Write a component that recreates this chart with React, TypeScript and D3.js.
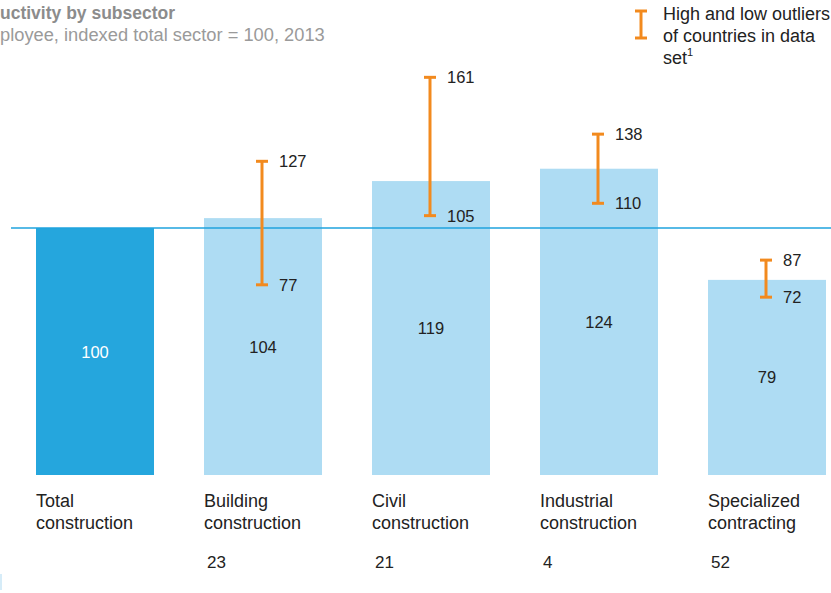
import React, { useEffect, useRef } from 'react';
import * as d3 from 'd3';

const categories = ['Total construction', 'Building construction', 'Civil construction', 'Industrial construction', 'Specialized contracting'];
const labelLines = [['Total', 'construction'], ['Building', 'construction'], ['Civil', 'construction'], ['Industrial', 'construction'], ['Specialized', 'contracting']];
const values = [100, 104, 119, 124, 79];
const highOutliers = [null, 127, 161, 138, 87];
const lowOutliers = [null, 77, 105, 110, 72];
const shares = ['', '23', '21', '4', '52'];

const W = 831;
const H = 593;
const FONT = 'Liberation Sans, Arial, sans-serif';
const ORANGE = '#F28A1E';

export default function App() {
  const ref = useRef<SVGSVGElement>(null);

  useEffect(() => {
    if (!ref.current) return;
    const svg = d3.select(ref.current);
    svg.selectAll('*').remove();

    const x = d3.scaleBand<string>().domain(categories).range([36, 826]).paddingInner(0.2976).paddingOuter(0);
    const y = d3.scaleLinear().domain([0, 100]).range([475, 228]);

    // title
    svg.append('text').attr('x', 0).attr('y', 19).attr('font-family', FONT).attr('font-size', 17.5)
      .attr('font-weight', 'bold').attr('fill', '#8c8c8c').text('uctivity by subsector');
    svg.append('text').attr('x', 0).attr('y', 41).attr('font-family', FONT).attr('font-size', 18.3)
      .attr('fill', '#9a9a9a').text('ployee, indexed total sector = 100, 2013');

    // legend
    const lg = svg.append('g');
    lg.append('line').attr('x1', 641).attr('x2', 641).attr('y1', 11).attr('y2', 38).attr('stroke', ORANGE).attr('stroke-width', 3);
    lg.append('line').attr('x1', 635).attr('x2', 647).attr('y1', 11).attr('y2', 11).attr('stroke', ORANGE).attr('stroke-width', 3);
    lg.append('line').attr('x1', 635).attr('x2', 647).attr('y1', 38).attr('y2', 38).attr('stroke', ORANGE).attr('stroke-width', 3);
    const lt = lg.append('text').attr('font-family', FONT).attr('font-size', 18).attr('fill', '#222');
    lt.append('tspan').attr('x', 663).attr('y', 20).text('High and low outliers');
    lt.append('tspan').attr('x', 663).attr('y', 42).text('of countries in data');
    lt.append('tspan').attr('x', 663).attr('y', 64).text('set');
    lt.append('tspan').attr('font-size', 11).attr('dy', -8).text('1');

    // bars
    svg.append('g').selectAll('rect').data(categories).join('rect')
      .attr('x', d => x(d)!)
      .attr('width', x.bandwidth())
      .attr('y', (d, i) => y(values[i]))
      .attr('height', (d, i) => y(0) - y(values[i]))
      .attr('fill', (d, i) => (i === 0 ? '#25A6DD' : '#AEDCF3'));

    // reference line at 100
    svg.append('line').attr('x1', 11).attr('x2', W).attr('y1', y(100)).attr('y2', y(100))
      .attr('stroke', '#1FA3DE').attr('stroke-width', 1.5);

    // value labels
    svg.append('g').selectAll('text').data(categories).join('text')
      .attr('x', d => x(d)! + x.bandwidth() / 2)
      .attr('y', (d, i) => (y(values[i]) + y(0)) / 2 + 6)
      .attr('text-anchor', 'middle').attr('font-family', FONT).attr('font-size', 16.5)
      .attr('fill', (d, i) => (i === 0 ? '#fff' : '#222'))
      .text((d, i) => values[i]);

    // outlier whiskers
    categories.forEach((c, i) => {
      const hi = highOutliers[i];
      const lo = lowOutliers[i];
      if (hi == null || lo == null) return;
      const cx = x(c)! + x.bandwidth() / 2 - 1;
      const g = svg.append('g');
      g.append('line').attr('x1', cx).attr('x2', cx).attr('y1', y(hi)).attr('y2', y(lo)).attr('stroke', ORANGE).attr('stroke-width', 3);
      [hi, lo].forEach(v => {
        g.append('line').attr('x1', cx - 6).attr('x2', cx + 6).attr('y1', y(v)).attr('y2', y(v)).attr('stroke', ORANGE).attr('stroke-width', 3);
        g.append('text').attr('x', cx + 17).attr('y', y(v) + 6).attr('font-family', FONT).attr('font-size', 16.5)
          .attr('fill', '#222').text(v);
      });
    });

    // category labels
    categories.forEach((c, i) => {
      const t = svg.append('text').attr('font-family', FONT).attr('font-size', 18).attr('fill', '#222');
      labelLines[i].forEach((line, j) => {
        t.append('tspan').attr('x', x(c)!).attr('y', 507 + j * 22).text(line);
      });
      if (shares[i]) {
        svg.append('text').attr('x', x(c)! + 3).attr('y', 568).attr('font-family', FONT).attr('font-size', 17)
          .attr('fill', '#222').text(shares[i]);
      }
    });

    svg.append('rect').attr('x', 0).attr('y', 574).attr('width', 2).attr('height', 16).attr('fill', '#d6ecf8');
  }, []);

  return (
    <svg ref={ref} width={W} height={H} style={{ position: 'absolute', left: 0, top: 0, background: '#fff' }} />
  );
}
